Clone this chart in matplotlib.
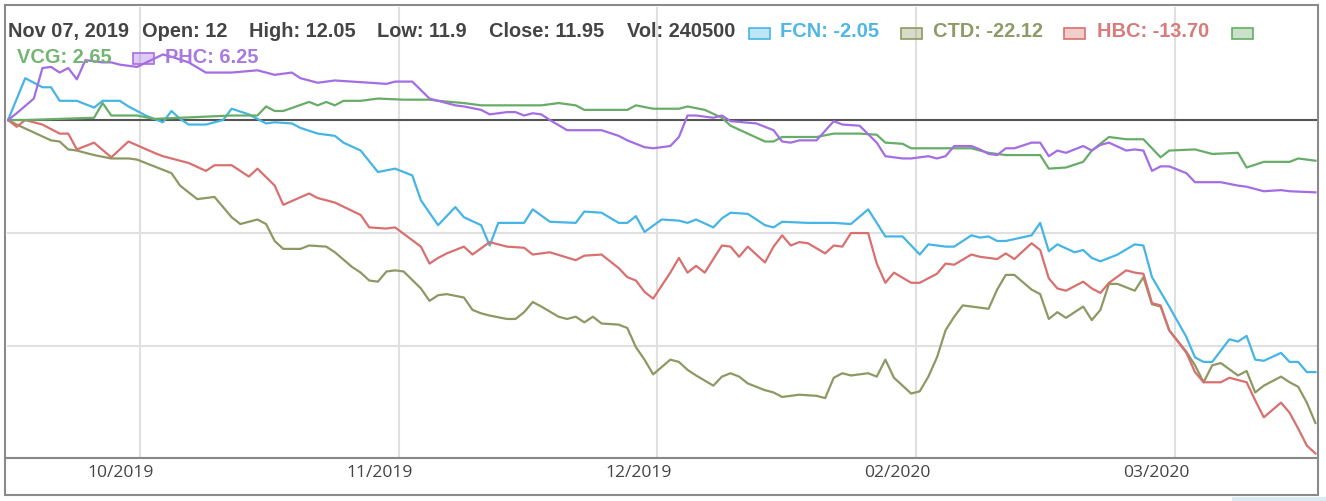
import matplotlib
matplotlib.use("Agg")
import matplotlib.pyplot as plt
from matplotlib.patches import Rectangle
from matplotlib.colors import to_rgba
import matplotlib.transforms as mtransforms

# hover header values (Nov 07, 2019)
hover_date = "Nov 07, 2019"
ohlc_names = ["Open", "High", "Low", "Close", "Vol"]
ohlc_values = ["12", "12.05", "11.9", "11.95", "240500"]
series_names = ["FCN", "CTD", "HBC", "VCG", "PHC"]
series_hover = ["-2.05", "-22.12", "-13.70", "2.65", "6.25"]

# x axis: day index, month labels
month_ticks = [15.3, 45.4, 75.5, 105.6, 135.7]
month_labels = ["10/2019", "11/2019", "12/2019", "02/2020", "03/2020"]

fcn_days = [0,2,4,5,6,8,10,11,13,14,16,18,19,20,21,23,25,26,28,30,31,33,34,36,38,39,41,43,45,47,
            48,50,52,53,55,56,57,60,61,63,66,67,69,71,72,73,74,76,78,79,80,82,83,84,86,88,89,90,93,96,
            98,100,101,102,104,106,107,109,110,112,113,114,115,116,119,120,121,122,124,125,126,127,129,131,132,133,134,135,137,138,
            139,140,142,143,144,145,146,148,149,150,151,152]
fcn_vals = [0.0,3.7,2.9,2.9,1.7,1.7,1.1,1.7,1.7,1.2,0.4,-0.2,0.8,0.1,-0.4,-0.4,0.0,1.0,0.5,-0.3,
            -0.2,-0.3,-0.7,-1.2,-1.4,-2.0,-2.7,-4.6,-4.3,-4.9,-7.1,-9.3,-7.7,-8.6,-9.3,-11.1,-9.1,-9.1,-7.9,-9.0,
            -9.1,-8.1,-8.2,-9.1,-9.1,-8.5,-9.9,-8.8,-8.9,-9.1,-8.8,-9.5,-8.7,-8.2,-8.3,-9.3,-9.5,-9.0,-9.1,-9.1,
            -9.2,-7.9,-9.1,-10.3,-10.3,-11.9,-11.0,-11.2,-11.2,-10.2,-10.4,-10.3,-10.7,-10.7,-10.2,-9.1,-11.6,-11.0,-11.7,-11.5,
            -12.2,-12.5,-11.9,-11.0,-11.1,-13.9,-15.2,-16.5,-19.2,-21.0,-21.4,-21.4,-19.4,-19.6,-19.1,-21.2,-21.3,-20.6,-21.4,-21.4,
            -22.3,-22.3]

ctd_days = [0,1,3,5,6,7,8,10,12,14,15,17,19,20,22,23,24,25,26,27,29,30,31,32,34,35,37,38,40,41,
            42,43,44,45,46,48,49,50,51,53,54,55,56,58,59,60,61,62,64,65,66,67,68,69,71,72,73,74,75,77,
            78,79,80,82,83,84,85,86,88,89,90,92,94,95,96,97,98,100,101,102,103,105,106,107,108,109,110,111,113,114,
            115,116,117,119,120,121,122,123,125,126,127,128,129,131,132,133,134,135,137,138,139,140,141,143,144,145,146,148,149,150,
            151,152]
ctd_vals = [0.0,-0.4,-1.1,-1.8,-1.9,-2.6,-2.7,-3.1,-3.4,-3.4,-3.5,-4.1,-4.7,-5.8,-7.0,-6.9,-6.8,-7.7,-8.6,-9.2,
            -8.8,-9.2,-10.7,-11.4,-11.4,-11.1,-11.2,-11.7,-13.0,-13.5,-14.2,-14.3,-13.4,-13.3,-13.4,-14.9,-16.0,-15.5,-15.4,-15.7,
            -16.8,-17.1,-17.3,-17.6,-17.6,-17.0,-16.1,-16.5,-17.4,-17.6,-17.4,-17.9,-17.4,-18.0,-18.1,-18.4,-20.1,-21.2,-22.5,-21.2,
            -21.4,-22.1,-22.6,-23.5,-22.7,-22.4,-22.7,-23.3,-23.9,-24.1,-24.5,-24.3,-24.4,-24.6,-22.8,-22.4,-22.6,-22.4,-22.7,-21.2,
            -22.8,-24.2,-24.0,-22.7,-21.0,-18.6,-17.4,-16.4,-16.6,-16.7,-15.0,-13.7,-13.7,-15.0,-15.4,-17.6,-17.0,-17.5,-16.5,-17.7,
            -16.8,-14.5,-14.5,-15.1,-13.9,-16.3,-16.5,-18.6,-20.5,-21.7,-23.2,-21.7,-21.5,-22.6,-22.2,-24.1,-23.5,-22.7,-23.2,-23.6,
            -25.0,-26.8]

hbc_days = [0,1,2,4,6,7,8,10,12,14,17,18,21,23,24,26,28,29,31,32,35,36,38,41,42,44,45,48,49,50,
            51,53,54,56,58,60,61,63,66,67,69,71,72,73,74,75,77,78,79,80,81,83,84,85,86,88,89,90,91,92,
            93,95,96,97,98,100,101,102,103,105,106,107,108,109,110,112,113,115,116,117,119,120,121,122,123,125,126,127,128,130,
            131,132,133,134,135,137,138,139,141,142,144,145,146,148,149,150,151,152]
hbc_vals = [0.0,-0.6,0.0,-0.4,-1.2,-1.2,-2.6,-2.0,-3.3,-1.9,-2.9,-3.2,-3.8,-4.5,-4.0,-4.0,-5.0,-4.3,-5.8,-7.5,
            -6.5,-6.9,-7.3,-8.4,-9.5,-9.6,-9.5,-11.2,-12.7,-12.2,-11.8,-11.2,-11.9,-10.8,-11.2,-11.3,-11.9,-11.7,-12.4,-12.0,
            -11.9,-13.1,-13.9,-14.2,-15.2,-15.8,-13.5,-12.2,-13.5,-12.9,-13.5,-11.1,-11.2,-12.1,-11.2,-12.6,-11.2,-10.2,-11.1,-10.8,
            -10.9,-11.8,-11.1,-11.2,-10.0,-10.0,-12.7,-14.4,-13.5,-14.4,-14.4,-14.0,-13.6,-12.7,-12.8,-11.9,-12.1,-12.3,-11.8,-12.3,
            -10.9,-11.5,-14.0,-14.9,-15.1,-14.3,-14.9,-15.3,-14.4,-13.3,-13.5,-13.6,-16.2,-16.4,-18.6,-20.6,-22.3,-23.2,-23.2,-22.8,
            -23.2,-24.8,-26.3,-25.0,-25.9,-27.3,-28.8,-29.5]

vcg_days = [0,2,6,10,11,12,15,17,20,23,26,29,30,31,32,35,36,37,38,39,41,43,46,49,50,53,55,62,64,66,
            67,72,73,75,78,79,81,83,84,86,88,89,90,94,96,99,101,102,104,105,109,112,114,116,120,121,123,125,126,128,
            130,132,134,135,138,140,143,144,146,149,150,152]
vcg_vals = [0.0,0.0,0.1,0.2,1.5,0.4,0.4,0.1,0.2,0.3,0.4,0.4,1.2,0.8,0.8,1.6,1.3,1.6,1.3,1.7,
            1.7,1.9,1.8,1.8,1.7,1.5,1.3,1.3,1.5,1.3,0.9,0.9,1.3,1.0,1.0,1.2,0.9,0.2,-0.5,-1.2,
            -1.9,-1.9,-1.5,-1.5,-1.2,-1.2,-1.3,-2.0,-2.1,-2.5,-2.5,-2.5,-2.9,-3.1,-3.1,-4.3,-4.2,-3.7,-2.7,-1.5,
            -1.7,-1.7,-3.3,-2.7,-2.6,-3.0,-2.9,-4.2,-3.7,-3.7,-3.4,-3.6]

phc_days = [0,1,3,4,5,6,7,8,9,11,12,13,15,18,19,21,23,26,29,31,33,34,36,38,40,44,45,47,49,50,
            52,53,55,56,58,59,60,61,62,63,65,69,71,72,74,75,77,78,79,80,81,82,83,84,87,89,90,91,92,94,
            96,97,99,101,102,104,105,107,108,109,110,112,113,114,115,116,117,119,120,121,122,123,125,126,127,128,130,131,132,133,
            134,135,137,138,141,143,144,146,148,149,152]
phc_vals = [0.0,0.6,1.9,4.6,4.7,4.2,4.6,3.6,5.3,5.1,5.1,4.9,4.7,5.8,5.6,5.1,4.2,4.2,4.4,4.0,
            4.2,3.7,3.3,3.5,3.4,3.2,3.4,3.4,1.9,1.7,1.3,1.2,0.9,0.5,0.7,0.7,0.4,0.6,0.5,0.0,
            -0.9,-0.9,-1.4,-1.8,-2.4,-2.5,-2.3,-1.5,0.4,0.4,0.3,0.2,0.4,-0.1,-0.3,-0.9,-1.9,-2.0,-1.8,-1.8,
            -0.1,-0.4,-0.5,-2.0,-3.2,-3.4,-3.4,-3.2,-3.4,-3.2,-2.3,-2.3,-2.6,-3.0,-3.1,-2.5,-2.5,-2.0,-2.0,-3.2,
            -2.7,-2.9,-2.3,-2.7,-2.2,-2.0,-2.7,-2.6,-2.7,-4.5,-4.1,-4.1,-4.7,-5.5,-5.5,-5.8,-5.9,-6.3,-6.2,-6.3,
            -6.4]

line_colors = ["#45b5e6", "#8d9963", "#d9706f", "#67ad67", "#a46de3"]
text_colors = ["#4fb7e6", "#8e9b68", "#d97b7b", "#72b672", "#a779e1"]

W, H = 1326, 501
fig = plt.figure(figsize=(W / 100, H / 100), dpi=100)
fig.patch.set_facecolor("white")


def fx(x):
    return x / W


def fy(y):
    return 1 - y / H


ax = fig.add_axes([fx(7), fy(458), (1318 - 7) / W, (458 - 7) / H])

all_days = [fcn_days, ctd_days, hbc_days, vcg_days, phc_days]
all_vals = [fcn_vals, ctd_vals, hbc_vals, vcg_vals, phc_vals]
for d, v, c in zip(all_days, all_vals, line_colors):
    ax.plot(d, v, color=c, lw=1.6, zorder=3, solid_joinstyle="round")

ax.set_xlim(-0.12, 152.3)
ax.set_ylim(-29.9, 10.0)
ax.set_yticks([-20, -10])
ax.yaxis.grid(True, color="#e0e0e0", lw=1.5)
ax.axhline(0, color="#555555", lw=1.5, zorder=2)
ax.set_xticks(month_ticks)
ax.set_xticklabels(month_labels, fontsize=12.6, color="#444444", family="Open Sans")
ax.xaxis.grid(True, color="#e0e0e0", lw=1.5)
ax.tick_params(axis="x", length=0, pad=5)
ax.tick_params(axis="y", length=0, labelleft=False)
ax.set_axisbelow(True)
for s in ["top", "left", "right"]:
    ax.spines[s].set_visible(False)
ax.spines["bottom"].set_color("#888888")
ax.spines["bottom"].set_linewidth(1.5)

# month labels sit a bit left of their gridline
shift = mtransforms.ScaledTranslation(-19 / 100, 0, fig.dpi_scale_trans)
for lab in ax.get_xticklabels():
    lab.set_transform(lab.get_transform() + shift)

# outer frame
fig.add_artist(Rectangle((fx(5), fy(495)), (1318 - 5) / W, (495 - 5) / H,
                         transform=fig.transFigure, fill=False, ec="#8a8a8a", lw=1.5))
fig.add_artist(Rectangle((fx(1232), fy(501)), (1326 - 1232) / W, 4 / H,
                         transform=fig.transFigure, color="#dceaf7", lw=0))

# header text
hfont = dict(family="Liberation Sans", weight="bold", fontsize=14.4, va="baseline")
head_x = [8, 142, 249, 377, 489, 627]
head_txt = [hover_date] + [n + ": " + v for n, v in zip(ohlc_names, ohlc_values)]
for x, t in zip(head_x, head_txt):
    fig.text(fx(x), fy(37), t, color="#444444", **hfont)

box_pos = [(749, 28), (901, 28), (1064, 28), (1232, 28), (133, 53)]
lab_pos = [(780, 37), (933, 37), (1097, 37), None, (165, 63)]
for i, name in enumerate(series_names):
    bx, by = box_pos[i]
    fig.add_artist(Rectangle((fx(bx), fy(by + 11)), 21 / W, 11 / H, transform=fig.transFigure,
                             fc=to_rgba(line_colors[i], 0.35), ec=line_colors[i], lw=1.2))
    pos = lab_pos[i]
    if pos is None:
        pos = (17, 63)
    fig.text(fx(pos[0]), fy(pos[1]), name + ": " + series_hover[i], color=text_colors[i], **hfont)

fig.savefig("out.png", dpi=100)
